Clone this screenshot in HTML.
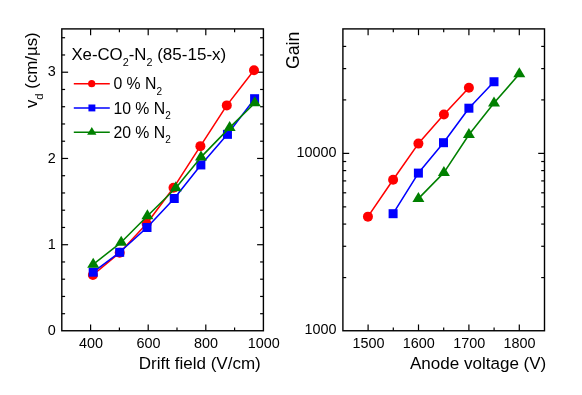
<!DOCTYPE html>
<html><head><meta charset="utf-8"><title>chart</title>
<style>html,body{margin:0;padding:0;background:#fff;}body{width:582px;height:395px;overflow:hidden;font-family:"Liberation Sans",sans-serif;}</style></head>
<body>
<svg width="582" height="395" viewBox="0 0 582 395" style="display:block;will-change:transform" font-family="'Liberation Sans', sans-serif" fill="#000">
<rect width="582" height="395" fill="#fff"/>
<rect x="61.80" y="28.90" width="201.60" height="301.85" fill="none" stroke="#000" stroke-width="1.4"/>
<rect x="342.90" y="28.90" width="201.60" height="301.85" fill="none" stroke="#000" stroke-width="1.4"/>
<line x1="90.60" y1="330.75" x2="90.60" y2="324.45" stroke="#000" stroke-width="1.2"/>
<line x1="90.60" y1="28.90" x2="90.60" y2="35.20" stroke="#000" stroke-width="1.2"/>
<line x1="119.40" y1="330.75" x2="119.40" y2="327.45" stroke="#000" stroke-width="1.2"/>
<line x1="119.40" y1="28.90" x2="119.40" y2="32.20" stroke="#000" stroke-width="1.2"/>
<line x1="148.20" y1="330.75" x2="148.20" y2="324.45" stroke="#000" stroke-width="1.2"/>
<line x1="148.20" y1="28.90" x2="148.20" y2="35.20" stroke="#000" stroke-width="1.2"/>
<line x1="177.00" y1="330.75" x2="177.00" y2="327.45" stroke="#000" stroke-width="1.2"/>
<line x1="177.00" y1="28.90" x2="177.00" y2="32.20" stroke="#000" stroke-width="1.2"/>
<line x1="205.80" y1="330.75" x2="205.80" y2="324.45" stroke="#000" stroke-width="1.2"/>
<line x1="205.80" y1="28.90" x2="205.80" y2="35.20" stroke="#000" stroke-width="1.2"/>
<line x1="234.60" y1="330.75" x2="234.60" y2="327.45" stroke="#000" stroke-width="1.2"/>
<line x1="234.60" y1="28.90" x2="234.60" y2="32.20" stroke="#000" stroke-width="1.2"/>
<line x1="61.80" y1="313.70" x2="65.10" y2="313.70" stroke="#000" stroke-width="1.2"/>
<line x1="263.40" y1="313.70" x2="260.10" y2="313.70" stroke="#000" stroke-width="1.2"/>
<line x1="61.80" y1="296.45" x2="65.10" y2="296.45" stroke="#000" stroke-width="1.2"/>
<line x1="263.40" y1="296.45" x2="260.10" y2="296.45" stroke="#000" stroke-width="1.2"/>
<line x1="61.80" y1="279.20" x2="65.10" y2="279.20" stroke="#000" stroke-width="1.2"/>
<line x1="263.40" y1="279.20" x2="260.10" y2="279.20" stroke="#000" stroke-width="1.2"/>
<line x1="61.80" y1="261.96" x2="65.10" y2="261.96" stroke="#000" stroke-width="1.2"/>
<line x1="263.40" y1="261.96" x2="260.10" y2="261.96" stroke="#000" stroke-width="1.2"/>
<line x1="61.80" y1="244.71" x2="68.10" y2="244.71" stroke="#000" stroke-width="1.2"/>
<line x1="263.40" y1="244.71" x2="257.10" y2="244.71" stroke="#000" stroke-width="1.2"/>
<line x1="61.80" y1="227.46" x2="65.10" y2="227.46" stroke="#000" stroke-width="1.2"/>
<line x1="263.40" y1="227.46" x2="260.10" y2="227.46" stroke="#000" stroke-width="1.2"/>
<line x1="61.80" y1="210.21" x2="65.10" y2="210.21" stroke="#000" stroke-width="1.2"/>
<line x1="263.40" y1="210.21" x2="260.10" y2="210.21" stroke="#000" stroke-width="1.2"/>
<line x1="61.80" y1="192.96" x2="65.10" y2="192.96" stroke="#000" stroke-width="1.2"/>
<line x1="263.40" y1="192.96" x2="260.10" y2="192.96" stroke="#000" stroke-width="1.2"/>
<line x1="61.80" y1="175.71" x2="65.10" y2="175.71" stroke="#000" stroke-width="1.2"/>
<line x1="263.40" y1="175.71" x2="260.10" y2="175.71" stroke="#000" stroke-width="1.2"/>
<line x1="61.80" y1="158.46" x2="68.10" y2="158.46" stroke="#000" stroke-width="1.2"/>
<line x1="263.40" y1="158.46" x2="257.10" y2="158.46" stroke="#000" stroke-width="1.2"/>
<line x1="61.80" y1="141.22" x2="65.10" y2="141.22" stroke="#000" stroke-width="1.2"/>
<line x1="263.40" y1="141.22" x2="260.10" y2="141.22" stroke="#000" stroke-width="1.2"/>
<line x1="61.80" y1="123.97" x2="65.10" y2="123.97" stroke="#000" stroke-width="1.2"/>
<line x1="263.40" y1="123.97" x2="260.10" y2="123.97" stroke="#000" stroke-width="1.2"/>
<line x1="61.80" y1="106.72" x2="65.10" y2="106.72" stroke="#000" stroke-width="1.2"/>
<line x1="263.40" y1="106.72" x2="260.10" y2="106.72" stroke="#000" stroke-width="1.2"/>
<line x1="61.80" y1="89.47" x2="65.10" y2="89.47" stroke="#000" stroke-width="1.2"/>
<line x1="263.40" y1="89.47" x2="260.10" y2="89.47" stroke="#000" stroke-width="1.2"/>
<line x1="61.80" y1="72.22" x2="68.10" y2="72.22" stroke="#000" stroke-width="1.2"/>
<line x1="263.40" y1="72.22" x2="257.10" y2="72.22" stroke="#000" stroke-width="1.2"/>
<line x1="61.80" y1="54.97" x2="65.10" y2="54.97" stroke="#000" stroke-width="1.2"/>
<line x1="263.40" y1="54.97" x2="260.10" y2="54.97" stroke="#000" stroke-width="1.2"/>
<line x1="61.80" y1="37.72" x2="65.10" y2="37.72" stroke="#000" stroke-width="1.2"/>
<line x1="263.40" y1="37.72" x2="260.10" y2="37.72" stroke="#000" stroke-width="1.2"/>
<line x1="368.10" y1="330.75" x2="368.10" y2="324.45" stroke="#000" stroke-width="1.2"/>
<line x1="368.10" y1="28.90" x2="368.10" y2="35.20" stroke="#000" stroke-width="1.2"/>
<line x1="393.30" y1="330.75" x2="393.30" y2="327.45" stroke="#000" stroke-width="1.2"/>
<line x1="393.30" y1="28.90" x2="393.30" y2="32.20" stroke="#000" stroke-width="1.2"/>
<line x1="418.50" y1="330.75" x2="418.50" y2="324.45" stroke="#000" stroke-width="1.2"/>
<line x1="418.50" y1="28.90" x2="418.50" y2="35.20" stroke="#000" stroke-width="1.2"/>
<line x1="443.70" y1="330.75" x2="443.70" y2="327.45" stroke="#000" stroke-width="1.2"/>
<line x1="443.70" y1="28.90" x2="443.70" y2="32.20" stroke="#000" stroke-width="1.2"/>
<line x1="468.90" y1="330.75" x2="468.90" y2="324.45" stroke="#000" stroke-width="1.2"/>
<line x1="468.90" y1="28.90" x2="468.90" y2="35.20" stroke="#000" stroke-width="1.2"/>
<line x1="494.10" y1="330.75" x2="494.10" y2="327.45" stroke="#000" stroke-width="1.2"/>
<line x1="494.10" y1="28.90" x2="494.10" y2="32.20" stroke="#000" stroke-width="1.2"/>
<line x1="519.30" y1="330.75" x2="519.30" y2="324.45" stroke="#000" stroke-width="1.2"/>
<line x1="519.30" y1="28.90" x2="519.30" y2="35.20" stroke="#000" stroke-width="1.2"/>
<line x1="342.90" y1="277.57" x2="346.20" y2="277.57" stroke="#000" stroke-width="1.2"/>
<line x1="544.50" y1="277.57" x2="541.20" y2="277.57" stroke="#000" stroke-width="1.2"/>
<line x1="342.90" y1="246.28" x2="346.20" y2="246.28" stroke="#000" stroke-width="1.2"/>
<line x1="544.50" y1="246.28" x2="541.20" y2="246.28" stroke="#000" stroke-width="1.2"/>
<line x1="342.90" y1="224.08" x2="346.20" y2="224.08" stroke="#000" stroke-width="1.2"/>
<line x1="544.50" y1="224.08" x2="541.20" y2="224.08" stroke="#000" stroke-width="1.2"/>
<line x1="342.90" y1="206.87" x2="346.20" y2="206.87" stroke="#000" stroke-width="1.2"/>
<line x1="544.50" y1="206.87" x2="541.20" y2="206.87" stroke="#000" stroke-width="1.2"/>
<line x1="342.90" y1="192.80" x2="346.20" y2="192.80" stroke="#000" stroke-width="1.2"/>
<line x1="544.50" y1="192.80" x2="541.20" y2="192.80" stroke="#000" stroke-width="1.2"/>
<line x1="342.90" y1="180.90" x2="346.20" y2="180.90" stroke="#000" stroke-width="1.2"/>
<line x1="544.50" y1="180.90" x2="541.20" y2="180.90" stroke="#000" stroke-width="1.2"/>
<line x1="342.90" y1="170.60" x2="346.20" y2="170.60" stroke="#000" stroke-width="1.2"/>
<line x1="544.50" y1="170.60" x2="541.20" y2="170.60" stroke="#000" stroke-width="1.2"/>
<line x1="342.90" y1="161.51" x2="346.20" y2="161.51" stroke="#000" stroke-width="1.2"/>
<line x1="544.50" y1="161.51" x2="541.20" y2="161.51" stroke="#000" stroke-width="1.2"/>
<line x1="342.90" y1="99.90" x2="346.20" y2="99.90" stroke="#000" stroke-width="1.2"/>
<line x1="544.50" y1="99.90" x2="541.20" y2="99.90" stroke="#000" stroke-width="1.2"/>
<line x1="342.90" y1="68.62" x2="346.20" y2="68.62" stroke="#000" stroke-width="1.2"/>
<line x1="544.50" y1="68.62" x2="541.20" y2="68.62" stroke="#000" stroke-width="1.2"/>
<line x1="342.90" y1="46.42" x2="346.20" y2="46.42" stroke="#000" stroke-width="1.2"/>
<line x1="544.50" y1="46.42" x2="541.20" y2="46.42" stroke="#000" stroke-width="1.2"/>
<line x1="342.90" y1="153.38" x2="349.20" y2="153.38" stroke="#000" stroke-width="1.2"/>
<line x1="544.50" y1="153.38" x2="538.20" y2="153.38" stroke="#000" stroke-width="1.2"/>
<text x="90.90" y="347.90" font-size="14.4" text-anchor="middle" >400</text>
<text x="148.50" y="347.90" font-size="14.4" text-anchor="middle" >600</text>
<text x="206.10" y="347.90" font-size="14.4" text-anchor="middle" >800</text>
<text x="263.70" y="347.90" font-size="14.4" text-anchor="middle" >1000</text>
<text x="368.40" y="347.90" font-size="14.4" text-anchor="middle" >1500</text>
<text x="418.80" y="347.90" font-size="14.4" text-anchor="middle" >1600</text>
<text x="469.20" y="347.90" font-size="14.4" text-anchor="middle" >1700</text>
<text x="519.60" y="347.90" font-size="14.4" text-anchor="middle" >1800</text>
<text x="55.80" y="334.95" font-size="14.4" text-anchor="end" >0</text>
<text x="55.80" y="248.91" font-size="14.4" text-anchor="end" >1</text>
<text x="55.80" y="162.66" font-size="14.4" text-anchor="end" >2</text>
<text x="55.80" y="76.42" font-size="14.4" text-anchor="end" >3</text>
<text x="336.60" y="334.25" font-size="14.4" text-anchor="end" >1000</text>
<text x="336.60" y="157.18" font-size="14.4" text-anchor="end" >10000</text>
<text x="260.80" y="369.00" font-size="17.05" text-anchor="end" >Drift field (V/cm)</text>
<text x="546.30" y="369.00" font-size="17.05" text-anchor="end" >Anode voltage (V)</text>
<text transform="translate(36.9,108.1) rotate(-90)" font-size="16.83">v<tspan font-size="11.3" dy="6.0">d</tspan><tspan dy="-6.0"> (cm/µs)</tspan></text>
<text transform="translate(298.9,31.7) rotate(-90)" font-size="17.7" text-anchor="end">Gain</text>
<text x="71.4" y="59.9" font-size="16.8">Xe-CO<tspan font-size="10.8" dy="6.0">2</tspan><tspan dy="-6.0">-N</tspan><tspan font-size="10.8" dy="6.0">2</tspan><tspan dy="-6.0" font-size="17.05"> (85-15-x)</tspan></text>
<line x1="73.80" y1="83.70" x2="109.80" y2="83.70" stroke="#ff0000" stroke-width="1.45"/>
<circle cx="91.70" cy="83.70" r="3.60" fill="#ff0000"/>
<text x="113.4" y="89.40" font-size="15.8">0 % N<tspan font-size="10.0" dy="5.1">2</tspan></text>
<line x1="73.80" y1="107.95" x2="109.80" y2="107.95" stroke="#0000ff" stroke-width="1.45"/>
<rect x="88.45" y="104.50" width="6.90" height="6.90" fill="#0000ff"/>
<text x="113.4" y="113.65" font-size="15.8">10 % N<tspan font-size="10.0" dy="5.1">2</tspan></text>
<line x1="73.80" y1="132.20" x2="109.80" y2="132.20" stroke="#008000" stroke-width="1.45"/>
<polygon points="91.80,126.93 96.45,134.83 87.15,134.83" fill="#008000"/>
<text x="113.4" y="137.90" font-size="15.8">20 % N<tspan font-size="10.0" dy="5.1">2</tspan></text>
<polyline fill="none" stroke="#ff0000" stroke-width="1.55" stroke-linejoin="round" points="92.90,275.00 119.70,252.70 146.60,223.80 173.50,187.80 200.40,146.15 226.80,105.40 254.00,70.20"/>
<circle cx="92.90" cy="275.00" r="5.00" fill="#ff0000"/>
<circle cx="119.70" cy="252.70" r="5.00" fill="#ff0000"/>
<circle cx="146.60" cy="223.80" r="5.00" fill="#ff0000"/>
<circle cx="173.50" cy="187.80" r="5.00" fill="#ff0000"/>
<circle cx="200.40" cy="146.15" r="5.00" fill="#ff0000"/>
<circle cx="226.80" cy="105.40" r="5.00" fill="#ff0000"/>
<circle cx="254.00" cy="70.20" r="5.00" fill="#ff0000"/>
<polyline fill="none" stroke="#0000ff" stroke-width="1.55" stroke-linejoin="round" points="93.20,272.20 119.70,252.30 147.00,227.50 174.25,198.50 200.85,164.95 227.45,134.35 254.60,98.70"/>
<rect x="88.70" y="267.70" width="9.00" height="9.00" fill="#0000ff"/>
<rect x="115.20" y="247.80" width="9.00" height="9.00" fill="#0000ff"/>
<rect x="142.50" y="223.00" width="9.00" height="9.00" fill="#0000ff"/>
<rect x="169.75" y="194.00" width="9.00" height="9.00" fill="#0000ff"/>
<rect x="196.35" y="160.45" width="9.00" height="9.00" fill="#0000ff"/>
<rect x="222.95" y="129.85" width="9.00" height="9.00" fill="#0000ff"/>
<rect x="250.10" y="94.20" width="9.00" height="9.00" fill="#0000ff"/>
<polyline fill="none" stroke="#008000" stroke-width="1.55" stroke-linejoin="round" points="93.20,264.40 121.20,242.30 147.40,216.00 175.80,187.95 201.00,157.15 229.65,127.60 254.80,103.00"/>
<polygon points="93.20,257.73 99.20,267.73 87.20,267.73" fill="#008000"/>
<polygon points="121.20,235.63 127.20,245.63 115.20,245.63" fill="#008000"/>
<polygon points="147.40,209.33 153.40,219.33 141.40,219.33" fill="#008000"/>
<polygon points="175.80,181.28 181.80,191.28 169.80,191.28" fill="#008000"/>
<polygon points="201.00,150.48 207.00,160.48 195.00,160.48" fill="#008000"/>
<polygon points="229.65,120.93 235.65,130.93 223.65,130.93" fill="#008000"/>
<polygon points="254.80,96.33 260.80,106.33 248.80,106.33" fill="#008000"/>
<polyline fill="none" stroke="#ff0000" stroke-width="1.55" stroke-linejoin="round" points="367.95,216.65 393.10,179.70 418.40,143.60 443.90,114.50 468.90,87.70"/>
<circle cx="367.95" cy="216.65" r="5.00" fill="#ff0000"/>
<circle cx="393.10" cy="179.70" r="5.00" fill="#ff0000"/>
<circle cx="418.40" cy="143.60" r="5.00" fill="#ff0000"/>
<circle cx="443.90" cy="114.50" r="5.00" fill="#ff0000"/>
<circle cx="468.90" cy="87.70" r="5.00" fill="#ff0000"/>
<polyline fill="none" stroke="#0000ff" stroke-width="1.55" stroke-linejoin="round" points="393.10,213.70 418.40,173.10 443.50,142.70 468.90,108.20 494.00,81.75"/>
<rect x="388.60" y="209.20" width="9.00" height="9.00" fill="#0000ff"/>
<rect x="413.90" y="168.60" width="9.00" height="9.00" fill="#0000ff"/>
<rect x="439.00" y="138.20" width="9.00" height="9.00" fill="#0000ff"/>
<rect x="464.40" y="103.70" width="9.00" height="9.00" fill="#0000ff"/>
<rect x="489.50" y="77.25" width="9.00" height="9.00" fill="#0000ff"/>
<polyline fill="none" stroke="#008000" stroke-width="1.55" stroke-linejoin="round" points="418.40,198.60 443.90,172.60 468.90,134.70 494.00,103.10 519.30,74.00"/>
<polygon points="418.40,191.93 424.40,201.93 412.40,201.93" fill="#008000"/>
<polygon points="443.90,165.93 449.90,175.93 437.90,175.93" fill="#008000"/>
<polygon points="468.90,128.03 474.90,138.03 462.90,138.03" fill="#008000"/>
<polygon points="494.00,96.43 500.00,106.43 488.00,106.43" fill="#008000"/>
<polygon points="519.30,67.33 525.30,77.33 513.30,77.33" fill="#008000"/>
</svg>
</body></html>
